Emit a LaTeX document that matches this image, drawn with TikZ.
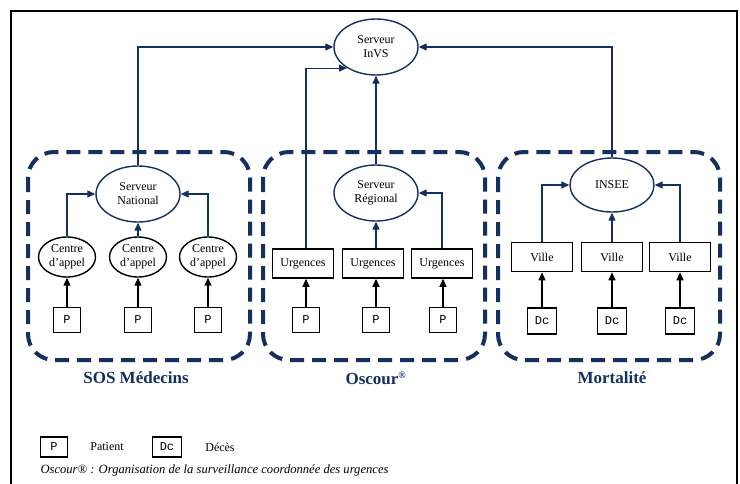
\documentclass[tikz,border=0pt]{standalone}
\usepackage{fontspec}
\setmainfont{Liberation Serif}
\setmonofont{Liberation Mono}
\usetikzlibrary{shapes.geometric,arrows.meta}
\definecolor{navy}{HTML}{14305E}
\begin{document}
\begin{tikzpicture}
[
x=1pt,y=-1pt,
every node/.style={font=\fontsize{12}{14}\selectfont},
server/.style={ellipse, draw=navy, line width=1.4pt, align=center, inner sep=0pt, minimum width=84pt, minimum height=56pt},
centre/.style={ellipse, draw=black, line width=1.4pt, align=center, inner sep=0pt, minimum width=57pt, minimum height=40pt},
unit/.style={rectangle, draw=black, line width=1.6pt, inner sep=0pt, minimum width=61pt, minimum height=29pt},
source/.style={rectangle, draw=black, line width=1.6pt, inner sep=0pt, minimum width=27pt, minimum height=25pt, font=\ttfamily\fontsize{12}{14}\selectfont},
group/.style={draw=navy, line width=4pt, dash pattern=on 14pt off 8pt, rounded corners=26pt},
grouplabel/.style={text=navy, font=\bfseries\fontsize{17}{20}\selectfont},
up/.style={-{Triangle[length=8pt,width=7pt]}, draw=navy, line width=1.1pt},
feed/.style={-{Triangle[length=8pt,width=7pt]}, draw=black, line width=1.1pt}
]
\useasboundingbox (0,0) rectangle (740,483);
\fill[white] (0,0) rectangle (740,483);
\draw[line width=1.5pt] (11,490) -- (11,11) -- (737,11) -- (737,490);

%Groups
\draw[group] (28,152) rectangle (250,360);
\draw[group] (263,152) rectangle (485,360);
\draw[group] (498,152) rectangle (720,360);
\node[grouplabel] (sos_lbl)  at (136,378) {SOS Médecins};
\node[grouplabel] (osc_lbl)  at (376,378) {Oscour\textsuperscript{\fontsize{10}{10}\selectfont ®}};
\node[grouplabel] (mort_lbl) at (612,378) {Mortalité};

%Nodes
\node[server] (invs)  at (376,47)  {Serveur\\InVS};
\node[server] (nat)   at (138,194) {Serveur\\National};
\node[server] (reg)   at (376,193) {Serveur\\Régional};
\node[server, minimum height=54pt] (insee) at (612,185) {INSEE};

\node[centre] (centre1) at (67,257)  {Centre\\d’appel};
\node[centre] (centre2) at (138,257) {Centre\\d’appel};
\node[centre] (centre3) at (208,257) {Centre\\d’appel};
\node[source] (p1) at (67,320)  {P};
\node[source] (p2) at (138,320) {P};
\node[source] (p3) at (208,320) {P};

\node[unit] (urg1) at (303,263.5) {Urgences};
\node[unit] (urg2) at (373,263.5) {Urgences};
\node[unit] (urg3) at (442,263.5) {Urgences};
\node[source] (pu1) at (306,320) {P};
\node[source] (pu2) at (376,320) {P};
\node[source] (pu3) at (443,320) {P};

\node[unit] (ville1) at (542,257) {Ville};
\node[unit] (ville2) at (612,257) {Ville};
\node[unit] (ville3) at (680,257) {Ville};
\node[source, minimum width=29pt, minimum height=26pt] (dc1) at (542,321) {Dc};
\node[source, minimum width=29pt, minimum height=26pt] (dc2) at (612,321) {Dc};
\node[source, minimum width=29pt, minimum height=26pt] (dc3) at (680,321) {Dc};

%Legend
\node[source, minimum height=20pt] (leg_p)  at (54,447)  {P};
\node              (leg_pt) at (107,447) {Patient};
\node[source, minimum width=29pt, minimum height=20pt] (leg_dc) at (167,447) {Dc};
\node              (leg_dt) at (220,447) {Décès};
\node[anchor=west, font=\itshape\fontsize{12.6}{14}\selectfont] (note) at (37,470)
  {Oscour® : Organisation de la surveillance coordonnée des urgences};

%Lines
\draw[up] (nat.north) |- (invs.west);
\draw[up] (pu1 |- urg1.north) |- (invs.216);
\draw[up] (reg.north) -- (invs.south);
\draw[up] (insee.north) |- (invs.east);

\draw[up] (centre1.north) |- (nat.west);
\draw[up] (centre2.north) -- (nat.south);
\draw[up] (centre3.north) |- (nat.east);
\draw[up] (reg.south |- urg2.north) -- (reg.south);
\draw[up] (urg3.north) |- (reg.east);
\draw[up] (ville1.north) |- (insee.west);
\draw[up] (ville2.north) -- (insee.south);
\draw[up] (ville3.north) |- (insee.east);

\path[feed]
(p1) edge (centre1)
(p2) edge (centre2)
(p3) edge (centre3)
(pu1) edge (pu1 |- urg1.south)
(pu2) edge (pu2 |- urg2.south)
(pu3) edge (pu3 |- urg3.south)
(dc1) edge (ville1)
(dc2) edge (ville2)
(dc3) edge (ville3);
\end{tikzpicture}
\end{document}
